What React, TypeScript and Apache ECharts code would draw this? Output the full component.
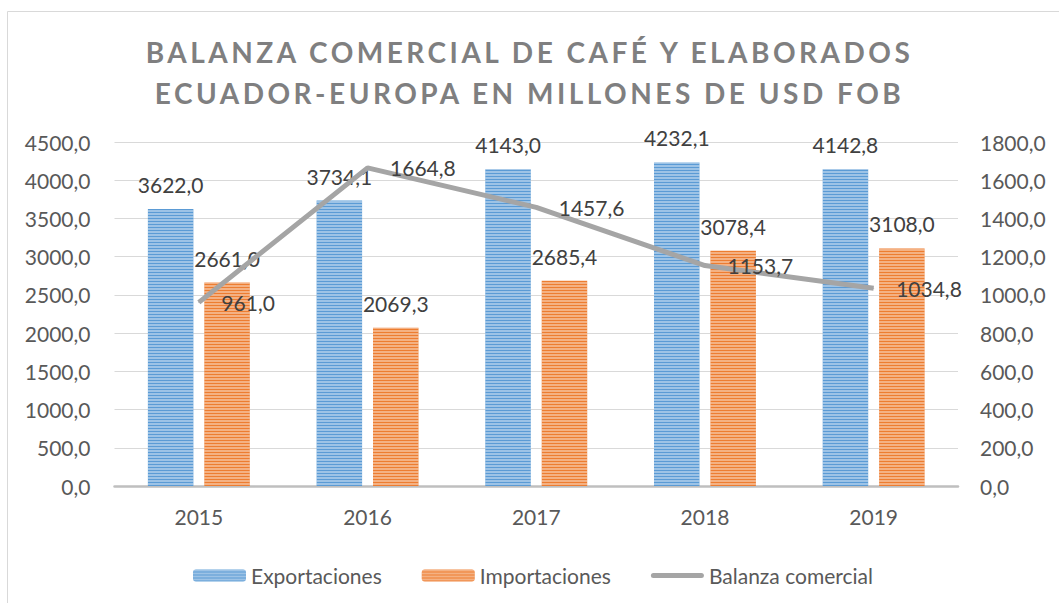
import React, { useEffect, useRef } from "react";
import * as echarts from "echarts";

const titleLines = ["BALANZA COMERCIAL DE CAFÉ Y ELABORADOS", "ECUADOR-EUROPA EN MILLONES DE USD FOB"];
const categories = ["2015", "2016", "2017", "2018", "2019"];
const exportaciones = [3622.0, 3734.1, 4143.0, 4232.1, 4142.8];
const importaciones = [2661.0, 2069.3, 2685.4, 3078.4, 3108.0];
const balanza = [961.0, 1664.8, 1457.6, 1153.7, 1034.8];
const seriesNames = ["Exportaciones", "Importaciones", "Balanza comercial"];

const fmt = (v: number) => v.toFixed(1).replace(".", ",");
const FONT = "Lato, 'Noto Sans', sans-serif";
const FS = 21;

export default function App() {
  const ref = useRef<HTMLDivElement>(null);
  useEffect(() => {
    document.body.style.margin = "0";
    const style = document.createElement("style");
    style.textContent = `svg text[fill="#7f7f80"], svg text[style*="7f7f80"] { letter-spacing: 3.5px; }`;
    document.head.appendChild(style);
    const chart = echarts.init(ref.current!, undefined, { renderer: "svg" });
    const stripe = (c: string) => ({
      symbol: "rect",
      symbolSize: 1,
      dashArrayX: [[1, 0]],
      dashArrayY: [2, 1],
      color: c,
      rotation: 0,
    });
    const labelStyle = {
      show: true,
      fontFamily: FONT,
      fontSize: FS,
      color: "#404040",
      formatter: (p: any) => fmt(p.value),
    };
    chart.setOption({
      animation: false,
      backgroundColor: "#ffffff",
      textStyle: { fontFamily: FONT },
      title: {
        text: titleLines.join("\n"),
        left: "center",
        top: 26,
        textStyle: {
          fontFamily: FONT,
          fontWeight: "bold",
          fontSize: 28,
          color: "#7f7f80",
          lineHeight: 41.5,
        },
      },
      graphic: [
        {
          type: "rect",
          shape: { x: 7.5, y: 11.5, width: 1200, height: 800 },
          style: { fill: "none", stroke: "#d9d9d9", lineWidth: 1 },
          silent: true,
          z: -10,
        },
      ],
      legend: {
        data: [
          { name: seriesNames[0] },
          { name: seriesNames[1] },
          {
            name: seriesNames[2],
            icon: "path://M2.5,0h48a2.5,2.5 0 0 1 0,5h-48a2.5,2.5 0 0 1 0,-5z",
          },
        ],
        left: 188,
        top: 560,
        itemWidth: 53,
        itemHeight: 12,
        itemGap: 40,
        textStyle: { fontFamily: FONT, fontSize: FS, color: "#595959" },
      },
      grid: { left: 114.5, right: 101, top: 142, bottom: 117 },
      xAxis: {
        type: "category",
        data: categories,
        axisTick: { show: false },
        axisLine: { lineStyle: { color: "#bfbfbf", width: 2.5 } },
        axisLabel: { fontFamily: FONT, fontSize: FS, color: "#595959", margin: 20 },
      },
      yAxis: [
        {
          type: "value",
          min: 0,
          max: 4500,
          interval: 500,
          axisLabel: { fontFamily: FONT, fontSize: FS, color: "#595959", margin: 24, formatter: fmt },
          splitLine: { lineStyle: { color: "#d9d9d9", width: 1 } },
          axisLine: { show: false },
          axisTick: { show: false },
        },
        {
          type: "value",
          min: 0,
          max: 1800,
          interval: 200,
          axisLabel: { fontFamily: FONT, fontSize: FS, color: "#595959", margin: 22, formatter: fmt },
          splitLine: { show: false },
          axisLine: { show: false },
          axisTick: { show: false },
        },
      ],
      series: [
        {
          name: seriesNames[0],
          type: "bar",
          data: exportaciones,
          barWidth: 45.5,
          barGap: "24%",
          itemStyle: { color: "#5b9bd5", decal: stripe("rgba(255,255,255,0.4)") },
          label: { ...labelStyle, position: "top", distance: 14 },
        },
        {
          name: seriesNames[1],
          type: "bar",
          data: importaciones,
          barWidth: 45.5,
          barGap: "24%",
          itemStyle: { color: "#ed7d31", decal: stripe("rgba(255,255,255,0.4)") },
          label: { ...labelStyle, position: "top", distance: 14 },
        },
        {
          name: seriesNames[2],
          type: "line",
          yAxisIndex: 1,
          data: balanza,
          symbol: "circle",
          symbolSize: 1,
          z: 5,
          lineStyle: { color: "#a5a5a5", width: 5 },
          itemStyle: { color: "#a5a5a5" },
          label: { ...labelStyle, position: "right", distance: 22 },
        },
      ],
    });
    return () => {
      chart.dispose();
      style.remove();
    };
  }, []);
  return <div ref={ref} style={{ width: 1059, height: 603 }} />;
}
